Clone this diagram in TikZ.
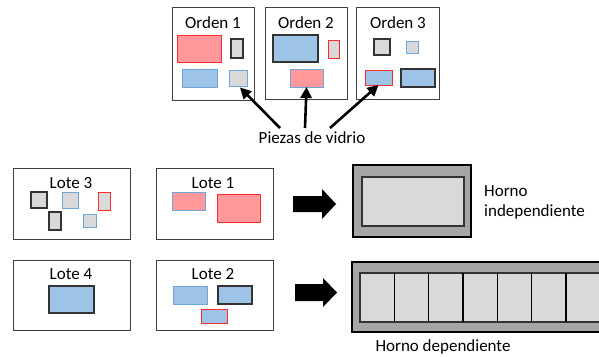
\documentclass[tikz,border=0pt]{standalone}
\usepackage{fontspec}
\setmainfont{Carlito}
\usetikzlibrary{arrows.meta}
\definecolor{pinkfill}{HTML}{FF999B}
\definecolor{bluefill}{HTML}{9DC3E6}
\definecolor{grayfill}{HTML}{D9D9D9}
\definecolor{ovengray}{HTML}{A6A6A6}
\definecolor{edgered}{HTML}{FF2A2A}
\definecolor{edgeblue}{HTML}{6FA6DA}
\definecolor{edgedark}{HTML}{333333}
\definecolor{boxedge}{HTML}{404040}
\tikzset{
  txt/.style={font=\fontsize{17}{20.5}\selectfont, inner sep=0pt},
  frame/.style={draw=boxedge, line width=0.9pt, fill=white},
  pc/.style 2 args={rectangle, inner sep=0pt, outer sep=0pt,
    minimum width=#1pt, minimum height=#2pt},
  rr/.style={fill=pinkfill, draw=edgered, line width=0.9pt},
  rb/.style={fill=pinkfill, draw=edgeblue, line width=0.9pt},
  bd/.style={fill=bluefill, draw=edgedark, line width=1.3pt},
  bb/.style={fill=bluefill, draw=edgeblue, line width=0.9pt},
  br/.style={fill=bluefill, draw=edgered, line width=0.9pt},
  gd/.style={fill=grayfill, draw=edgedark, line width=1.3pt},
  gb/.style={fill=grayfill, draw=edgeblue, line width=0.9pt},
  gr/.style={fill=grayfill, draw=edgered, line width=0.9pt},
  pointer/.style={line width=2.6pt, -{Triangle[length=11pt,width=11pt]}},
  blockarrow/.style={fill=black},
  ovenout/.style={fill=ovengray, draw=black, line width=1.3pt},
  ovenin/.style={fill=grayfill, draw=edgedark, line width=1.1pt},
  divider/.style={draw=black, line width=1.4pt},
}
\begin{document}
\begin{tikzpicture}[x=1pt,y=-1pt]
\useasboundingbox (0,0) rectangle (599,356);
\clip (0,0) rectangle (599,356);

% ---- orders ----
\draw[frame] (172,7) rectangle (254,100);
\draw[frame] (265,7) rectangle (347,99);
\draw[frame] (356,7) rectangle (439,99);
\node[txt] (o1) at (213,23) {Orden 1};
\node[txt] (o2) at (306,23) {Orden 2};
\node[txt] (o3) at (398,23) {Orden 3};

\node[pc={44}{27},rr] (o1a) at (199,48.5) {};
\node[pc={12}{19},gd] (o1b) at (237,48.5) {};
\node[pc={35}{18},bb] (o1c) at (199.5,78) {};
\node[pc={18}{16},gb] (o1d) at (238,78) {};

\node[pc={45}{27},bd] (o2a) at (295.5,48.5) {};
\node[pc={11}{18},gr] (o2b) at (333.5,49) {};
\node[pc={33}{18},rb] (o2c) at (306.5,78) {};

\node[pc={16}{16},gd] (o3a) at (382,47) {};
\node[pc={12}{12},gb] (o3b) at (412,47) {};
\node[pc={27}{15},br] (o3c) at (378.5,77.5) {};
\node[pc={34}{18},bd] (o3d) at (418,78) {};

% ---- label and pointers ----
\node[txt] (glass) at (312,138) {Piezas de vidrio};
\coordinate (s1) at (280,128);
\coordinate (s2) at (305,128);
\coordinate (s3) at (330,128);
\coordinate (t1) at (240,87.5);
\draw[pointer] (s1) -- (t1);
\draw[pointer] (s2) -- (o2c.south);
\draw[pointer] (s3) -- (o3c.south);

% ---- batches ----
\draw[frame] (13,168) rectangle (130,239);
\draw[frame] (156,168) rectangle (273,239);
\draw[frame] (13,260) rectangle (130,330);
\draw[frame] (156,260) rectangle (273,330);
\node[txt] (l3) at (71,183) {Lote 3};
\node[txt] (l1) at (213,183) {Lote 1};
\node[txt] (l4) at (71,274) {Lote 4};
\node[txt] (l2) at (213,274) {Lote 2};

\node[pc={16}{16},gd] (l3a) at (39,200) {};
\node[pc={16}{16},gb] (l3b) at (70,200) {};
\node[pc={12}{18},gr] (l3c) at (104,201) {};
\node[pc={12}{18},gd] (l3d) at (55,221) {};
\node[pc={13}{13},gb] (l3e) at (89.5,220.5) {};

\node[pc={33}{18},rb] (l1a) at (188.5,201) {};
\node[pc={43}{28},rr] (l1b) at (238.5,208) {};

\node[pc={45}{27},bd] (l4a) at (71.5,299.5) {};

\node[pc={34}{18},bb] (l2a) at (190,295) {};
\node[pc={34}{18},bd] (l2b) at (235,295) {};
\node[pc={26}{14},br] (l2c) at (214,316) {};

% ---- block arrows ----
\fill[blockarrow] (293,196) -- (322,196) -- (322,189) -- (336,204) -- (322,219)
  -- (322,212) -- (293,212) -- cycle;
\fill[blockarrow] (295,284) -- (323,284) -- (323,278) -- (337,292.5) -- (323,307)
  -- (323,301) -- (295,301) -- cycle;

% ---- independent oven ----
\draw[ovenout] (353,165) rectangle (471,237);
\draw[ovenin] (362,177) rectangle (464,226);
\node[txt, anchor=west, align=left] (hi) at (484,202.5) {Horno\\independiente};

% ---- dependent oven ----
\draw[ovenout] (352,262) rectangle (640,332);
\draw[ovenin] (360,273) rectangle (640,322);
\foreach \k in {1,...,7}
  \draw[divider] ({360+34.3*\k},273) -- ({360+34.3*\k},322);
\node[txt] (hd) at (443,347) {Horno dependiente};
\end{tikzpicture}
\end{document}
